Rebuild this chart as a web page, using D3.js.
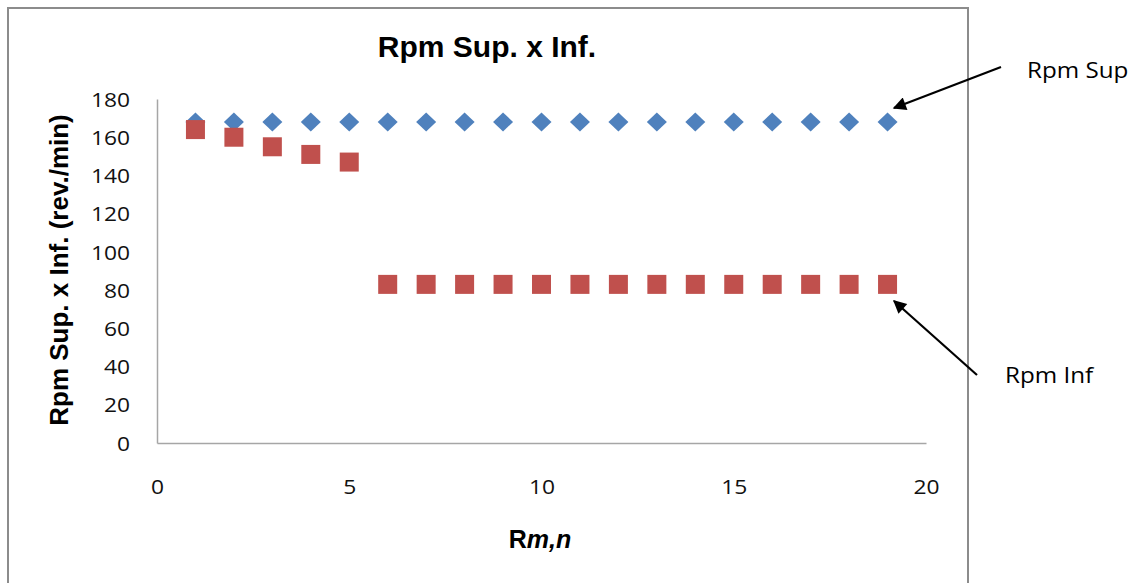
<!DOCTYPE html>
<html><head><meta charset="utf-8">
<script src="https://cdn.jsdelivr.net/npm/d3@7"></script>
<style>body{margin:0;background:#fff}svg{display:block}</style>
</head><body>
<svg id="c" width="1145" height="583"></svg>
<script>
const xValues = [1,2,3,4,5,6,7,8,9,10,11,12,13,14,15,16,17,18,19];
const rpmSup = [168,168,168,168,168,168,168,168,168,168,168,168,168,168,168,168,168,168,168];
const rpmInf = [164,160,155,151,147,83,83,83,83,83,83,83,83,83,83,83,83,83,83];
const xTicks = [0,5,10,15,20];
const yTicks = [0,20,40,60,80,100,120,140,160,180];

const svg = d3.select("#c");
const font = "'Open Sans', Lato, sans-serif";
const bold = "Arial, 'Liberation Sans', sans-serif";
const sx = 1.14;
// outer frame
svg.append("rect").attr("x",8).attr("y",8).attr("width",960).attr("height",600)
  .attr("fill","none").attr("stroke","#8c8c8c").attr("stroke-width",2);

const x = d3.scaleLinear().domain([0,20]).range([157,926]);
const y = d3.scaleLinear().domain([0,180]).range([443,99]);

const gx = svg.append("g").attr("transform","translate(0,443)")
  .call(d3.axisBottom(x).tickValues(xTicks).tickSize(0));
const gy = svg.append("g").attr("transform","translate(157,0)")
  .call(d3.axisLeft(y).tickValues(yTicks).tickSize(0));
[gx,gy].forEach(g=>{
  g.select(".domain").attr("stroke","#a6a6a6").attr("stroke-width",1.5);
  g.selectAll("text").attr("font-family",font).attr("font-size",20).attr("fill","#111");
});
gy.selectAll("text").attr("x",-27/sx).attr("dy","0.36em").attr("transform",`scale(${sx},1)`);
gx.selectAll("text").attr("dy",0).attr("y",51).attr("transform",`scale(${sx},1)`);

// series
const supData = xValues.map((v,i)=>({x:v,y:rpmSup[i]}));
const infData = xValues.map((v,i)=>({x:v,y:rpmInf[i]}));
svg.append("g").selectAll("path").data(supData).join("path")
  .attr("d","M0,-9.5L10,0L0,9.5L-10,0Z")
  .attr("transform",d=>`translate(${x(d.x)},${y(d.y)})`)
  .attr("fill","#4F81BD");
svg.append("g").selectAll("rect").data(infData).join("rect")
  .attr("x",d=>x(d.x)-9.5).attr("y",d=>y(d.y)-9.5)
  .attr("width",19).attr("height",19).attr("fill","#C0504D");

// titles
svg.append("text").attr("x",487).attr("y",57).attr("text-anchor","middle")
  .attr("font-family",bold).attr("font-weight","bold")
  .attr("font-size",30).attr("fill","#000").text("Rpm Sup. x Inf.");
svg.append("text").attr("transform","translate(68,270) rotate(-90)").attr("text-anchor","middle")
  .attr("font-family",bold).attr("font-weight","bold")
  .attr("font-size",26).attr("fill","#000").text("Rpm Sup. x Inf. (rev./min)");
const xt = svg.append("text").attr("x",540).attr("y",548).attr("text-anchor","middle")
  .attr("font-family",bold).attr("font-weight","bold")
  .attr("font-size",25).attr("fill","#000");
xt.append("tspan").text("R");
xt.append("tspan").attr("font-style","italic").text("m,n");

// annotations
svg.append("defs").append("marker").attr("id","ah").attr("viewBox","0 0 10 10")
  .attr("refX",9).attr("refY",5).attr("markerWidth",7).attr("markerHeight",6)
  .attr("orient","auto").attr("markerUnits","strokeWidth")
  .append("path").attr("d","M0,0L10,5L0,10Z").attr("fill","#000");
svg.append("line").attr("x1",1001).attr("y1",67).attr("x2",894).attr("y2",108)
  .attr("stroke","#000").attr("stroke-width",2.2).attr("marker-end","url(#ah)");
svg.append("line").attr("x1",977).attr("y1",375).attr("x2",894).attr("y2",301)
  .attr("stroke","#000").attr("stroke-width",2.2).attr("marker-end","url(#ah)");
svg.append("text").attr("transform","translate(1027,78) scale(1.1,1)").attr("font-family",font)
  .attr("font-size",22).attr("fill","#000").text("Rpm Sup");
svg.append("text").attr("transform","translate(1005,383) scale(1.1,1)").attr("font-family",font)
  .attr("font-size",22).attr("fill","#000").text("Rpm Inf");
</script>
</body></html>
